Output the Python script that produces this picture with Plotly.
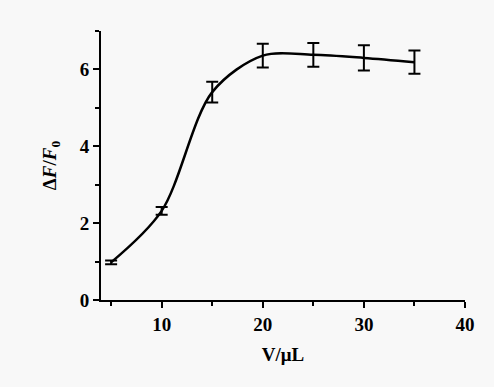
import plotly.graph_objects as go

volume = [5, 10, 15, 20, 25, 30, 35]
ratio = [0.98, 2.32, 5.41, 6.36, 6.38, 6.30, 6.19]
err = [0.05, 0.10, 0.27, 0.31, 0.31, 0.33, 0.30]

x_ticks = [10, 20, 30, 40]
y_ticks = [0, 2, 4, 6]

font_family = "Liberation Serif, Times New Roman, serif"

fig = go.Figure()
fig.add_trace(go.Scatter(
    x=volume, y=ratio, mode="lines",
    line=dict(color="black", width=2.5, shape="spline", smoothing=0.9),
    error_y=dict(type="data", array=err, visible=True, color="black", thickness=2, width=6),
    showlegend=False,
))

fig.update_layout(
    width=494, height=387,
    margin=dict(l=101, r=29, t=31, b=87),
    paper_bgcolor="#f8f8f8", plot_bgcolor="#f8f8f8",
    font=dict(family=font_family, size=19, color="black"),
)
fig.update_xaxes(
    range=[4, 40], tickvals=x_ticks, ticktext=[f"<b>{v}</b>" for v in x_ticks],
    showgrid=False, zeroline=False, showline=True, linecolor="black", linewidth=2,
    ticks="outside", ticklen=6, tickwidth=2, tickcolor="black",
    minor=dict(ticks="outside", ticklen=4, tickwidth=2, tickcolor="black", tick0=5, dtick=10),
    title=dict(text="<b>V/μL</b>", standoff=14, font=dict(size=19)),
)
fig.update_yaxes(
    range=[0, 7], tickvals=y_ticks, ticktext=[f"<b>{v}</b>" for v in y_ticks],
    showgrid=False, zeroline=False, showline=True, linecolor="black", linewidth=2,
    ticks="outside", ticklen=6, tickwidth=2, tickcolor="black",
    minor=dict(ticks="outside", ticklen=4, tickwidth=2, tickcolor="black", tick0=1, dtick=2),
    title=dict(text="<b>Δ<i>F</i>/<i>F</i><sub>0</sub></b>", standoff=18, font=dict(size=19)),
)

fig.write_html("out.html")
